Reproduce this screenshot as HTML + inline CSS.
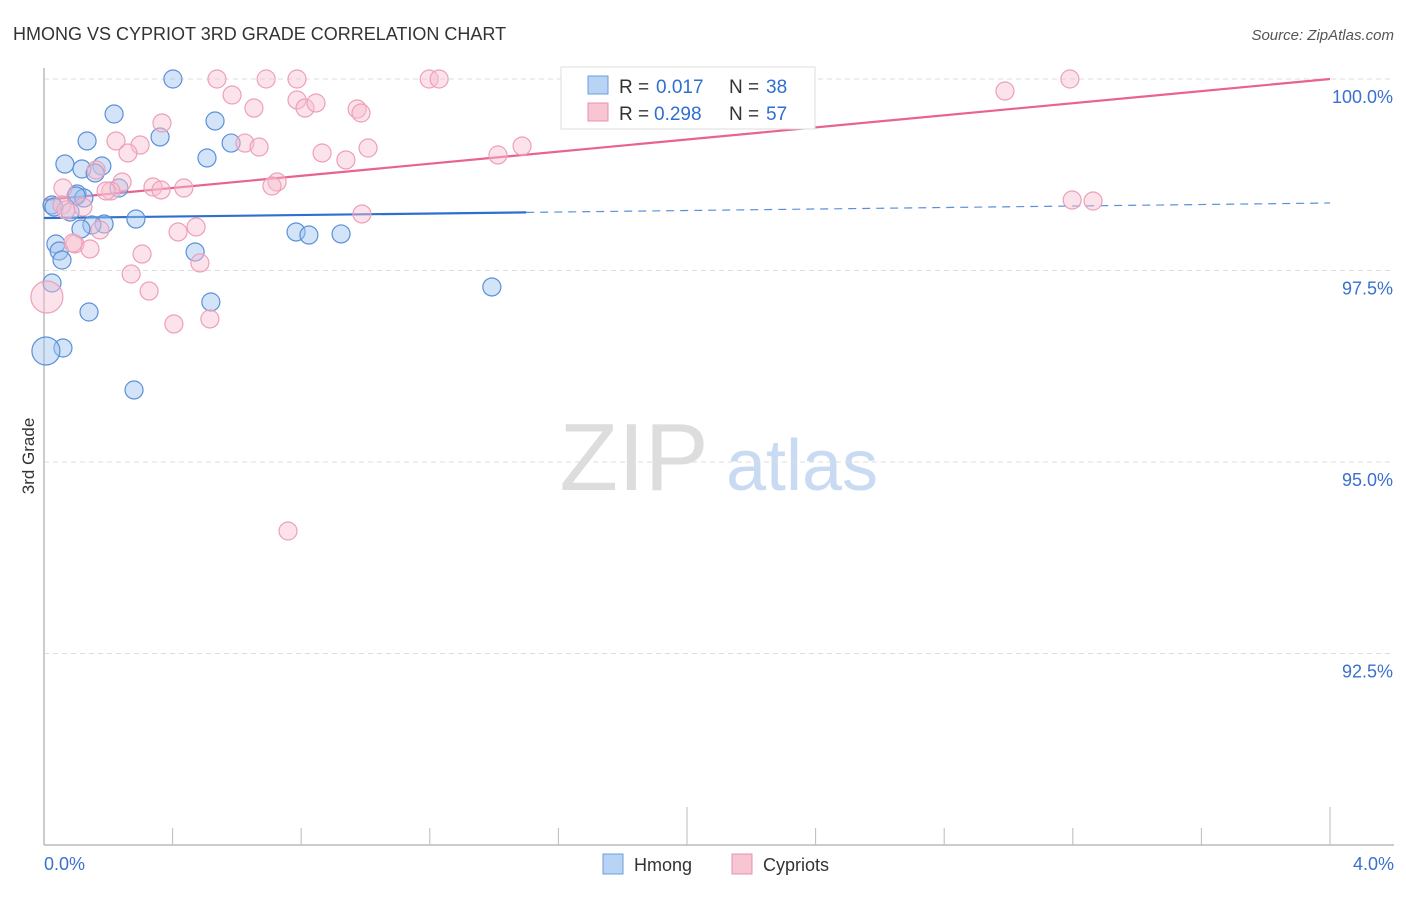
<!DOCTYPE html>
<html><head><meta charset="utf-8"><style>
body{margin:0;background:#fff;font-family:"Liberation Sans",sans-serif;}
svg text{font-family:"Liberation Sans",sans-serif;}
</style></head><body>
<svg id="chart" width="1406" height="892" xmlns="http://www.w3.org/2000/svg">
<text x="13" y="40" font-size="18" fill="#333">HMONG VS CYPRIOT 3RD GRADE CORRELATION CHART</text>
<text x="1394" y="40" font-size="15" fill="#555" font-style="italic" text-anchor="end">Source: ZipAtlas.com</text>
<text x="34" y="456" font-size="17" fill="#333" text-anchor="middle" transform="rotate(-90 34 456)">3rd Grade</text>
<g>
<text x="634" y="490" font-size="96" fill="#ddd" font-family="Liberation Serif" text-anchor="middle">ZIP</text>
<text x="802" y="490" font-size="72" fill="#c9daf3" text-anchor="middle">atlas</text>
</g>
<g id="grid"></g><g id="axes"></g><g id="trend"></g><g id="pts"></g>
<g>
<rect x="561" y="67" width="254" height="62" fill="#fff" stroke="#ddd"/>
<rect x="588" y="76" width="20" height="18" fill="#b9d3f5" stroke="#6a9ee0"/>
<text x="619" y="93" font-size="19" fill="#333">R = </text>
<text x="656" y="93" font-size="19" fill="#2f6fd0">0.017</text>
<text x="729" y="93" font-size="19" fill="#333">N = </text>
<text x="766" y="93" font-size="19" fill="#2f6fd0">38</text>
<rect x="588" y="103" width="20" height="18" fill="#f8c5d3" stroke="#e890ab"/>
<text x="619" y="120" font-size="19" fill="#333">R = </text>
<text x="654" y="120" font-size="19" fill="#2f6fd0">0.298</text>
<text x="729" y="120" font-size="19" fill="#333">N = </text>
<text x="766" y="120" font-size="19" fill="#2f6fd0">57</text>
</g>
<g>
<rect x="603" y="854" width="20" height="20" fill="#b9d3f5" stroke="#6a9ee0"/>
<text x="634" y="871" font-size="18" fill="#333">Hmong</text>
<rect x="732" y="854" width="20" height="20" fill="#f8c5d3" stroke="#e890ab"/>
<text x="763" y="871" font-size="18" fill="#333">Cypriots</text>
</g>
</svg>
<script>
const hmongX=[0.401,0.218,0.361,0.134,0.532,0.507,0.582,0.065,0.180,0.118,0.159,0.233,0.103,0.124,0.025,0.081,0.286,0.187,0.149,0.115,0.037,0.047,0.056,0.470,0.784,0.824,0.924,0.025,0.140,0.519,1.393,0.059,0.006,0.280,0.100,0.031];
const hmongY=[100,99.543,99.243,99.191,99.452,98.969,99.164,98.890,98.864,98.825,98.773,98.577,98.499,98.446,98.355,98.264,98.172,98.107,98.094,98.042,97.846,97.755,97.637,97.742,98.003,97.963,97.977,97.337,96.958,97.089,97.285,96.488,96.449,95.940,98.473,98.329];
const cypX=[0.538,0.691,0.787,0.585,0.653,0.787,0.812,0.846,0.974,0.986,1.198,1.229,2.989,3.191,0.367,0.224,0.299,0.261,0.625,0.669,0.865,0.939,1.008,1.412,1.487,0.162,0.243,0.059,0.208,0.339,0.435,0.364,0.725,0.709,0.121,0.056,0.174,0.096,0.143,0.305,0.417,0.473,0.485,0.271,0.327,0.009,0.404,0.516,0.759,0.989,3.198,3.263,0.193,0.068,0.090];
const cypY=[100,100,100,99.791,99.621,99.726,99.621,99.687,99.608,99.556,100,100,99.843,100,99.426,99.191,99.138,99.034,99.164,99.112,99.034,98.943,99.099,99.008,99.125,98.812,98.655,98.577,98.538,98.590,98.577,98.551,98.655,98.603,98.329,98.355,98.029,97.846,97.781,97.715,98.003,98.068,97.598,97.454,97.232,97.154,96.802,96.867,94.099,98.238,98.420,98.407,98.538,98.290,97.859];
const hmongBig=[32];const cypBig=[45];
const yTicks=[100,97.5,95,92.5];
const yTickLabels=["100.0%","97.5%","95.0%","92.5%"];
const xTickVals=[0,0.4,0.8,1.2,1.6,2.0,2.4,2.8,3.2,3.6,4.0];
const hmongTrend=[98.185,0.049];
const cypTrend=[98.42,0.395];
const X=v=>44+v/4*1286, Y=v=>79+(100-v)*76.6;
const NS="http://www.w3.org/2000/svg";
function mk(tag,attrs,parent){const e=document.createElementNS(NS,tag);for(const k in attrs)e.setAttribute(k,attrs[k]);document.getElementById(parent).appendChild(e);return e;}
yTicks.forEach((t,i)=>{
 const l=mk('line',{x1:44,x2:1394,y1:Y(t),y2:Y(t),stroke:'#ddd','stroke-dasharray':'5,4'},'grid');
 
 
 const tx=mk('text',{x:1393,y:Y(t)+24,'font-size':18,fill:'#3a70cf','text-anchor':'end'},'grid');
 tx.textContent=yTickLabels[i];
 
 
});
const ax=mk('line',{x1:44,x2:1394,y1:845,y2:845,stroke:'#bbb','stroke-width':1.5},'axes');


const ay=mk('line',{x1:44,x2:44,y1:68,y2:845,stroke:'#bbb','stroke-width':1.5},'axes');


xTickVals.forEach((v,i)=>{
 const major=(i%5===0);
 const t=mk('line',{x1:X(v),x2:X(v),y1:major?807:828,y2:845,stroke:'#bbb'},'axes');
 
 
});
const xl0=mk('text',{x:44,y:870,'font-size':18,fill:'#3a70cf'},'axes');xl0.textContent="0.0%";


const xl1=mk('text',{x:1394,y:870,'font-size':18,fill:'#3a70cf','text-anchor':'end'},'axes');xl1.textContent="4.0%";


hmongX.forEach((x,i)=>{
 const c=mk('circle',{cx:X(x),cy:Y(hmongY[i]),r:hmongBig.includes(i)?14:9,fill:'rgba(160,196,240,0.45)',stroke:'#5b90d8','stroke-width':1.2},'pts');
 
 
});
cypX.forEach((x,i)=>{
 const c=mk('circle',{cx:X(x),cy:Y(cypY[i]),r:cypBig.includes(i)?16:9,fill:'rgba(248,190,208,0.45)',stroke:'#eda0b8','stroke-width':1.2},'pts');
 
 
});
const hy=v=>hmongTrend[0]+hmongTrend[1]*v, cy=v=>cypTrend[0]+cypTrend[1]*v;
const h1=mk('line',{x1:X(0),y1:Y(hy(0)),x2:X(1.5),y2:Y(hy(1.5)),stroke:'#2f6fd0','stroke-width':2.2},'trend');


const h2=mk('line',{x1:X(1.5),y1:Y(hy(1.5)),x2:X(4),y2:Y(hy(4)),stroke:'#5b90d8','stroke-width':1.2,'stroke-dasharray':'8,6'},'trend');


const c1=mk('line',{x1:X(0),y1:Y(cy(0)),x2:X(4),y2:Y(cy(4)),stroke:'#e8638f','stroke-width':2.2},'trend');


</script>
</body></html>
